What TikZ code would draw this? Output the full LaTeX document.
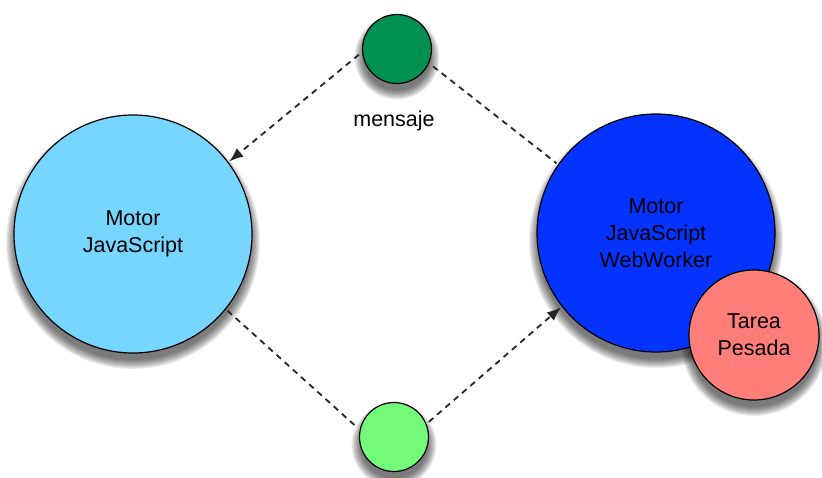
\documentclass[tikz,border=0pt]{standalone}
\usepackage{fontspec}
\setmainfont{Liberation Sans}
\usepackage{tikz}
\usetikzlibrary{arrows.meta,backgrounds}

\definecolor{sky}{HTML}{76D6FF}
\definecolor{blueberry}{HTML}{0433FF}
\definecolor{salmon}{HTML}{FF7E79}
\definecolor{moss}{HTML}{009051}
\definecolor{flora}{HTML}{73FA79}

\begin{document}
\begin{tikzpicture}[x=1pt,y=-1pt,
    engine/.style={circle, draw=black, line width=1.2pt, align=center,
      font=\fontsize{21.5}{27}\selectfont},
    token/.style={engine, minimum size=69pt, inner sep=0pt},
    flow/.style={dash pattern=on 6pt off 5pt, line width=1.8pt, black!85},
    tip/.style={-{Latex[length=14pt,width=11pt]}}]
	\useasboundingbox (0,0) rectangle (822,477);

            \node[engine, fill=sky, minimum size=238pt] (js) at (133,234) {Motor\\JavaScript};
            \node[engine, fill=blueberry, minimum size=238pt] (worker) at (656,233) {Motor\\JavaScript\\WebWorker};
            \node[engine, fill=salmon, minimum size=130pt] (task) at (754,335) {Tarea\\Pesada};

            \node[token, fill=moss] (msg) at (397,49) {};
            \node[token, fill=flora] (reply) at (394,437) {};
            \node[font=\fontsize{21.5}{27}\selectfont] (msglabel) at (394,121) {mensaje};

            % soft shadows
            \begin{scope}[on background layer]
              \foreach \n/\r in {js/119,worker/119,task/65,msg/34.5,reply/34.5}{
                \foreach \k in {1,...,10}{
                  \fill[black, opacity=0.07] ([yshift=-8pt]\n.center) circle [radius=\r+9-\k];
                }
              }
            \end{scope}

            \draw[flow, tip, shorten <=4pt, shorten >=1pt] (msg.185) -- (js.37);
            \draw[flow, shorten <=5pt, shorten >=2pt] (msg.-24) -- (worker.145);
            \draw[flow, shorten <=2pt, shorten >=5pt] (js.-39) -- (reply.168);
            \draw[flow, tip, shorten <=3pt, shorten >=1pt] (reply.22) -- (worker.-142);
\end{tikzpicture}
\end{document}
